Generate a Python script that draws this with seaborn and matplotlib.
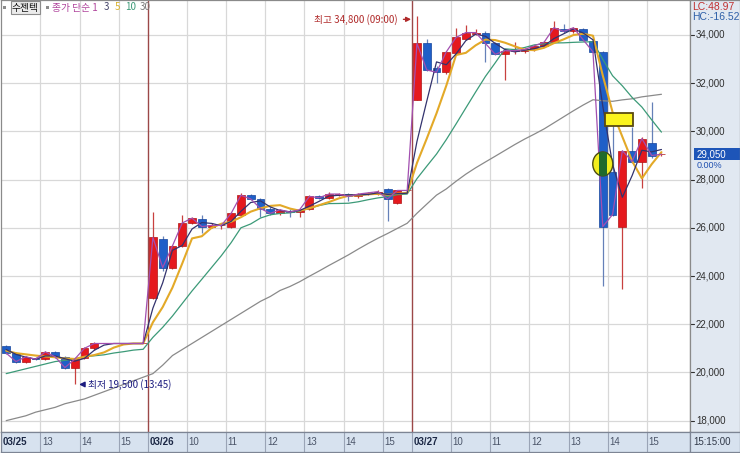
import matplotlib
matplotlib.use("Agg")
import matplotlib.pyplot as plt
from matplotlib.patches import Rectangle, Ellipse
import seaborn as sns
import pandas as pd
import numpy as np

# 15-minute candles of 수젠텍, 03/25 12:00 -> 03/27 15:15
opens = [21100, 20800, 20450, 20600, 20550, 20850, 20650, 20200, 20600, 21000,
         21200, 21200, 21200, 21200, 21200,
         23100, 25550, 24350, 25250, 26200, 26350, 26050, 26100, 26050, 26550,
         27350, 27200, 26800, 26600, 26700, 26650, 26800, 27300, 27250, 27350,
         27400, 27300, 27400, 27400, 27600, 27050, 27550,
         31300, 33650, 32650, 32450, 33250, 33850, 34050, 34100, 33650, 33200,
         33350, 33350, 33400, 33550, 33700, 34250, 34150, 34250, 33750, 33300,
         28300, 26050, 29200, 28750, 29500, 29050]
highs = [21150, 20850, 20700, 20650, 20900, 20900, 20700, 20600, 21050, 21250,
         21200, 21200, 21200, 21200, 21200,
         26650, 25650, 25300, 26550, 26450, 26550, 26200, 26200, 26650, 27450,
         27400, 27250, 26850, 26800, 26800, 26800, 27350, 27350, 27500, 27450,
         27450, 27450, 27500, 27550, 27650, 27550, 27550,
         34800, 33850, 32700, 33350, 34300, 34400, 34250, 34150, 33700, 33400,
         33700, 33450, 33600, 33750, 34600, 34450, 34350, 34300, 33800, 33350,
         30350, 29200, 30200, 29750, 31200, 29100]
lows = [20750, 20400, 20400, 20500, 20500, 20600, 20150, 19500, 20550, 20950,
        21200, 21200, 21200, 21200, 21200,
        23050, 24200, 24300, 25200, 26150, 25800, 26000, 25950, 26000, 26500,
        27150, 26450, 26550, 26550, 26450, 26450, 26750, 27200, 27200, 27300,
        27100, 27250, 27350, 27350, 26300, 27000, 27550,
        31300, 32500, 32000, 32400, 33200, 33800, 34000, 32900, 33150, 32150,
        33200, 33250, 33350, 33500, 33650, 34100, 34100, 33750, 33250, 23600,
        26500, 23450, 28700, 27650, 28900, 29000]
closes = [20800, 20450, 20650, 20550, 20850, 20650, 20200, 20550, 21000, 21200,
          21200, 21200, 21200, 21200, 21200,
          25600, 24350, 25250, 26200, 26400, 26050, 26100, 26100, 26600, 27350,
          27200, 26800, 26600, 26750, 26650, 26750, 27300, 27250, 27400, 27400,
          27300, 27400, 27450, 27500, 27200, 27550, 27550,
          33650, 32550, 32450, 33300, 33900, 34100, 34100, 33650, 33200, 33350,
          33350, 33400, 33550, 33700, 34300, 34150, 34300, 33800, 33300, 26050,
          26550, 29200, 28750, 29700, 29000, 29050]

# moving-average values before a full window is on screen
ma3_head = [20950, 20750]
ma5_head = [20900, 20800, 20750, 20700]
ma10_head = [19950, 20050, 20150, 20250, 20350, 20450, 20500, 20550, 20650]
ma30_head = [18000, 18100, 18200, 18350, 18450, 18550, 18700, 18800, 18900,
             19050, 19200, 19350, 19500, 19650, 19800, 19950, 20300, 20700,
             20950, 21200, 21450, 21700, 21950, 22200, 22450, 22700, 22950,
             23150, 23400]

sessions = [("2024-03-25 12:00", "2024-03-25 15:30"),
            ("2024-03-26 09:00", "2024-03-26 15:30"),
            ("2024-03-27 09:00", "2024-03-27 15:15")]
price_ticks = [18000, 20000, 22000, 24000, 26000, 28000, 30000, 32000, 34000]
lc_text = "LC:48.97"
hc_text = "HC:-16.52"
change_text = "0.00%"
now_text = "15:15:00"

bar_times = pd.DatetimeIndex(
    [t for a, b in sessions for t in pd.date_range(a, b, freq="15min")])
k = np.arange(len(closes))

close_s = pd.Series(closes, dtype=float)


def moving_average(n, head):
    ma = close_s.rolling(n).mean()
    ma.iloc[:n - 1] = head
    return ma


sns.set_style("white")
plt.rcParams["font.family"] = ["Liberation Sans", "Noto Sans CJK KR", "DejaVu Sans"]
KR = ["Noto Sans CJK KR", "DejaVu Sans"]
NARROW = ["Liberation Sans Narrow", "Liberation Sans", "DejaVu Sans"]

W, H = 740, 453
fig = plt.figure(figsize=(W / 100, H / 100), dpi=100)
fig.patch.set_facecolor("white")


def px_axes(x0, y0, x1, y1):
    return fig.add_axes([x0 / W, 1 - y1 / H, (x1 - x0) / W, (y1 - y0) / H])


ax = px_axes(1, 0, 690, 432)
axr = px_axes(690, 0, 740, 432)
axb = px_axes(1, 432, 690, 452)
axc = px_axes(690, 432, 740, 452)

xlim = ((1 - 6.2) / 9.78, (690 - 6.2) / 9.78)
ylim = (17528, 35452)

# tick positions from the bar times
day_idx = [i for i in range(len(bar_times))
           if i == 0 or bar_times[i].date() != bar_times[i - 1].date()]
hour_idx = [i for i in range(len(bar_times))
            if i not in day_idx and bar_times[i].minute == 0]

# ---- main panel ----
ax.set_xlim(*xlim)
ax.set_ylim(*ylim)
ax.set_yticks(price_ticks)
ax.set_xticks([i - 0.5 for i in hour_idx])
ax.grid(True, color="#d8d8d8", lw=0.9)
ax.tick_params(length=0, labelbottom=False, labelleft=False)
for s in ax.spines.values():
    s.set_color("#8a8a8a")
    s.set_linewidth(0.9)
for i in day_idx[1:]:
    ax.axvline(i - 0.5, color="#9c4848", lw=1, zorder=2)

up = np.array(closes) >= np.array(opens)
body_lo = np.minimum(opens, closes)
body_h = np.maximum(np.abs(np.array(closes) - np.array(opens)), 30)
ax.vlines(k, lows, highs, colors=np.where(up, "#c8403f", "#6580b8"), lw=0.9, zorder=3)
ax.bar(k, body_h, bottom=body_lo, width=0.8,
       color=np.where(up, "#e5191e", "#1f5fc8"),
       edgecolor=np.where(up, "#b01414", "#14449c"), linewidth=0.5, zorder=4)

ma_lines = [(30, ma30_head, "#8a8a8a", 0.9),
            (10, ma10_head, "#3c9a78", 0.9),
            (5, ma5_head, "#e3a928", 1.5),
            (3, ma3_head, "#33336e", 0.9)]
for n, head, col, lw in ma_lines:
    sns.lineplot(x=k, y=moving_average(n, head), ax=ax, color=col, lw=lw, zorder=5)
sns.lineplot(x=k, y=close_s, ax=ax, color="#a24fb0", lw=0.9, zorder=5)
ax.set_xlabel("")
ax.set_ylabel("")

# high / low notes
hi = int(np.argmax(highs))
lo = int(np.argmin(lows))
ax.annotate(f"최고 {highs[hi]:,} ({bar_times[hi]:%H:%M})",
            xy=(hi - 0.6, highs[hi] - 150), xytext=(hi - 2.0, highs[hi] - 150),
            ha="right", va="center", fontsize=7, color="#b02a2a", family=KR,
            arrowprops=dict(arrowstyle="-|>", color="#b02a2a", lw=1,
                            mutation_scale=7, shrinkA=2, shrinkB=0), zorder=6)
ax.annotate(f"최저 {lows[lo]:,} ({bar_times[lo]:%H:%M})",
            xy=(lo + 0.45, lows[lo]), xytext=(lo + 1.35, lows[lo]),
            ha="left", va="center", fontsize=7, color="#1c1c80", family=KR,
            arrowprops=dict(arrowstyle="-|>", color="#1c1c80", lw=1,
                            mutation_scale=8, shrinkA=1, shrinkB=0), zorder=6)

# markers around the 03/27 drop
drop = int(np.argmin(np.diff(closes))) + 1
mark = Ellipse((drop, 28650), width=2.05, height=996, fc="#f2ee1e",
               ec="#4a4a12", lw=1, zorder=6)
ax.add_patch(mark)
inner = Rectangle((drop - 0.4, body_lo[drop]), 0.8, body_h[drop],
                  fc="#1f6a2c", ec="none", zorder=6.5)
ax.add_patch(inner)
inner.set_clip_path(mark)
ax.add_patch(Rectangle((drop + 0.23, 30225), 2.86, 539, fc="#fbf41e",
                       ec="#5a4a10", lw=1.3, zorder=6))

# ---- right price panel ----
axr.set_xlim(0, 50)
axr.set_ylim(*ylim)
axr.set_facecolor("#e1e8f1")
axr.set_xticks([])
axr.set_yticks([])
for s in axr.spines.values():
    s.set_color("#8a8a8a")
    s.set_linewidth(0.9)
for p in price_ticks:
    axr.plot([0, 4], [p, p], color="#303030", lw=0.8)
    axr.text(6, p, f"{p:,}", va="center", ha="left", fontsize=7, color="#303030")
last = closes[-1]
axr.add_patch(Rectangle((4, last - 250), 46, 500, fc="#1d55b8", ec="none"))
axr.text(7, last, f"{last:,}", va="center", ha="left", fontsize=7, color="white")
axr.text(7, last - 450, change_text, va="center", ha="left", fontsize=6.5,
         color="#2050b0")
axr.text(2, 35452 - 7 / 0.0241, lc_text, va="center", ha="left", fontsize=7.5,
         color="#c03030")
axr.text(2, 35452 - 16.5 / 0.0241, hc_text, va="center", ha="left", fontsize=7.5,
         color="#2e5fa8")

# ---- bottom time strip ----
axb.set_xlim(*xlim)
axb.set_ylim(0, 1)
axb.set_facecolor("#d7e2ef")
axb.set_xticks([])
axb.set_yticks([])
for s in axb.spines.values():
    s.set_color("#7d8594")
    s.set_linewidth(0.9)
for i in day_idx:
    axb.axvline(i - 0.5, color="#9aa4b6", lw=0.8)
    axb.text(i - 0.35, 0.48, f"{bar_times[i]:%m/%d}", va="center", ha="left",
             fontsize=7, fontweight="bold", color="#1c2845", family=NARROW)
for i in hour_idx:
    axb.axvline(i - 0.5, color="#9aa4b6", lw=0.8)
    axb.text(i - 0.35, 0.48, f"{bar_times[i].hour}", va="center", ha="left",
             fontsize=7, color="#4a5468", family=NARROW)

axc.set_facecolor("#d7e2ef")
axc.set_xticks([])
axc.set_yticks([])
for s in axc.spines.values():
    s.set_color("#7d8594")
    s.set_linewidth(0.9)
axc.text(0.06, 0.48, now_text, transform=axc.transAxes, va="center", ha="left",
         fontsize=7, color="#303848", family=NARROW)

# ---- top-left legend ----
fig.text(12 / W, 1 - 7.5 / H, "수젠텍", fontsize=7, va="center", ha="left",
         family=KR, color="#101010",
         bbox=dict(boxstyle="square,pad=0.12", fc="#ebebeb", ec="#8c8c8c", lw=0.8))
for x0 in (3, 46):
    fig.add_artist(Rectangle((x0 / W, 1 - 9 / H), 3 / W, 3 / H,
                             transform=fig.transFigure, fc="#8c8c8c", ec="none"))
legend_items = [("종가 단순 1", 52, "#b0449c"), ("3", 104, "#45456a"),
                ("5", 115, "#d9b22a"), ("10", 125, "#3c9a78"), ("30", 140, "#7a7a7a")]
for label, x0, col in legend_items:
    fig.text(x0 / W, 1 - 7.5 / H, label, fontsize=7, va="center", ha="left",
             family=KR, color=col)

fig.savefig("out.png", dpi=100)
